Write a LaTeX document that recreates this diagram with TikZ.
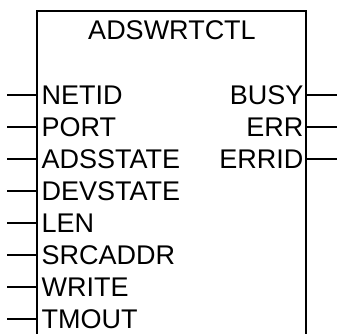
\documentclass[tikz,border=0pt]{standalone}
\usepackage{fontspec}
\setmainfont{Liberation Sans}
\usetikzlibrary{positioning, calc}

\begin{document}
\begin{tikzpicture}[x=1pt, y=-1pt, line width=1.2pt,
  pinlabel/.style={font=\fontsize{27}{30}\selectfont, inner sep=0pt}]
\useasboundingbox (0,0) rectangle (337,333);
\clip (0,0) rectangle (337,333);

% Function block
\node[minimum width=269pt, minimum height=340pt, outer sep=0pt, anchor=north west] (fb) at (37,11) {};
\draw (fb.south west) -- (fb.north west) -- (fb.north east) -- (fb.south east);
\node[pinlabel] (title) at (172,30) {ADSWRTCTL};

% Inputs
\foreach \name [count=\i from 0] in {NETID,PORT,ADSSTATE,DEVSTATE,LEN,SRCADDR,WRITE,TMOUT} {
  \node[pinlabel, anchor=west] (in\i) at (41,95+32*\i) {\name};
  \coordinate (inend\i) at (7,95+32*\i);
  \draw (inend\i) -- (inend\i -| fb.west);
}

% Outputs
\foreach \name [count=\i from 0] in {BUSY,ERR,ERRID} {
  \node[pinlabel, anchor=east] (out\i) at (304,95+32*\i) {\name};
  \coordinate (outend\i) at (337,95+32*\i);
  \draw (outend\i -| fb.east) -- (outend\i);
}
\end{tikzpicture}
\end{document}
